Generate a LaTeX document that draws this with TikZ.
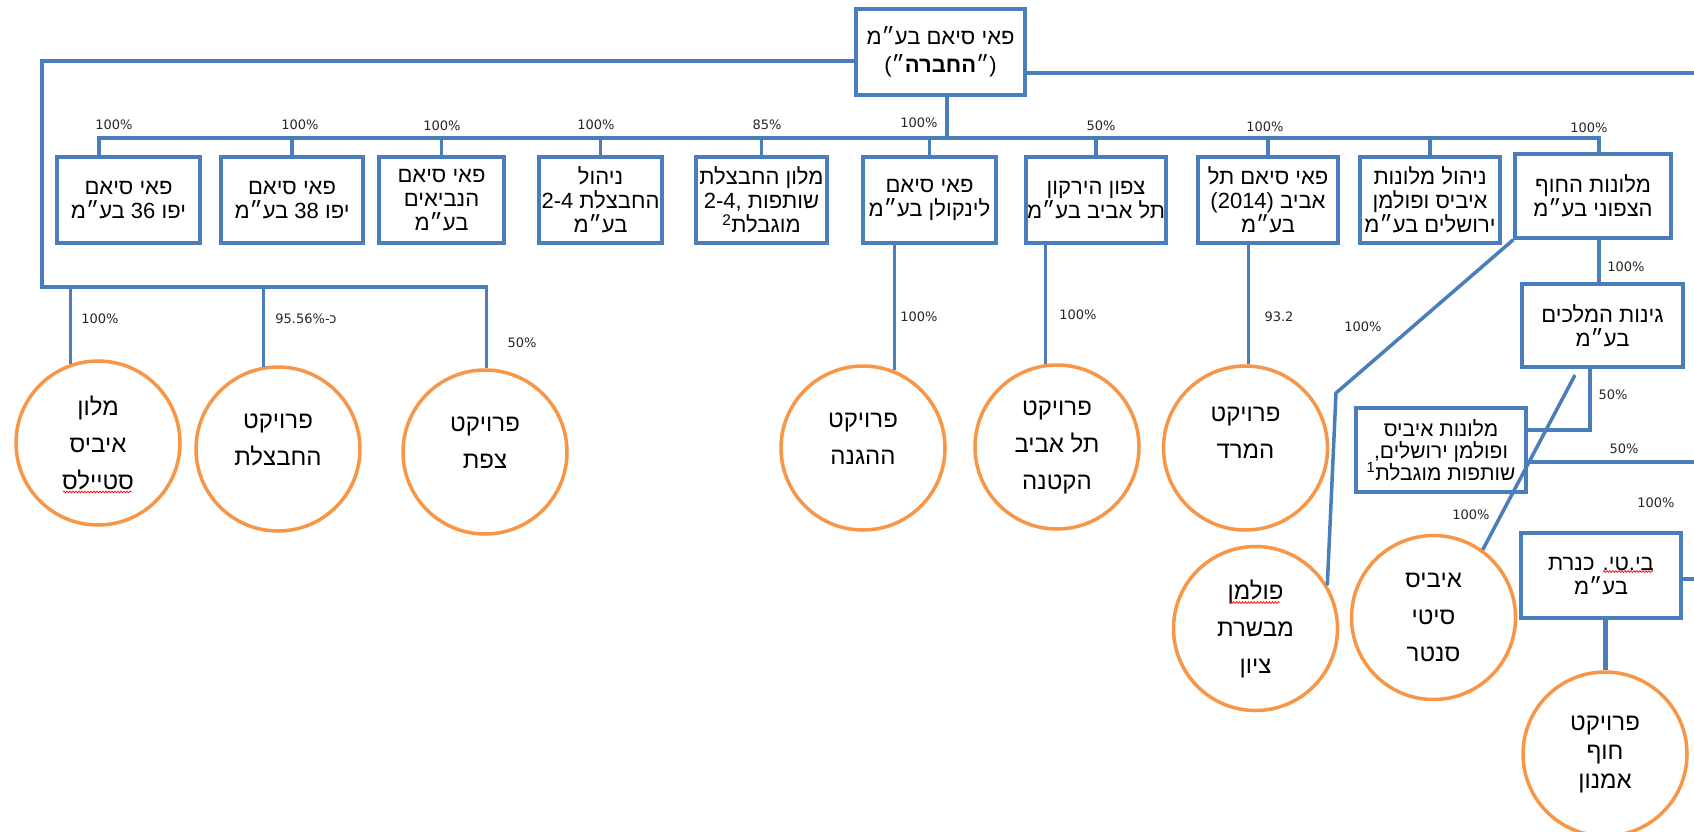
\documentclass[tikz,border=0pt]{standalone}
\usepackage{fontspec}
\setmainfont{Liberation Sans}
\newfontfamily\hebfont[Script=Hebrew]{Liberation Sans}
\newfontfamily\pctfont{DejaVu Sans}
\usetikzlibrary{positioning,decorations.pathmorphing}
\TeXXeTstate=1
\newcommand{\rtl}[1]{\beginR#1\endR}
\definecolor{orgblue}{RGB}{74,126,187}
\definecolor{orgorange}{RGB}{247,150,70}

\tikzset{%
          every company/.style={
            rectangle,
            draw=orgblue,
            line width=3.5pt,
            fill=white,
            align=center,
            inner sep=1pt,
            minimum height=86pt,
            font=\hebfont\fontsize{22}{24}\selectfont
          },
          every project/.style={
            circle,
            draw=orgorange,
            line width=3.5pt,
            fill=white,
            minimum size=164pt,
            inner sep=0pt,
            align=center,
            font=\hebfont\fontsize{24}{37}\selectfont
          },
          share/.style={
            font=\pctfont\fontsize{13}{14}\selectfont,
            text=black!85,
            inner sep=0pt
          },
          link/.style={
            draw=orgblue,
            line width=3.5pt
          },
          spellcheck/.style={
            draw=red,
            line width=0.7pt,
            decorate,
            decoration={snake, amplitude=0.9pt, segment length=3pt}
          },
        }

\begin{document}
\begin{tikzpicture}[x=1pt, y=-1pt]
        \fill [white] (0,0) rectangle (1694,831);
        \useasboundingbox (0,0) rectangle (1694,831);

        % companies
        \node [every company, minimum width=169pt, font=\hebfont\fontsize{22}{28}\selectfont] (root) at (940.5,52) {\rtl{פאי סיאם בע״מ}\\\rtl{(״\textbf{החברה}״)}};

        \node [every company, minimum width=143pt] (pai36) at (128.5,200) {\rtl{פאי סיאם}\\\rtl{יפו 36 בע״מ}};
        \node [every company, minimum width=142pt] (pai38) at (292,200) {\rtl{פאי סיאם}\\\rtl{יפו 38 בע״מ}};
        \node [every company, minimum width=125pt] (naviim) at (441.5,200) {\rtl{פאי סיאם}\\\rtl{הנביאים}\\\rtl{בע״מ}};
        \node [every company, minimum width=123pt] (nihul24) at (600.5,200) {\rtl{ניהול}\\\rtl{החבצלת \beginL2-4\endL}\\\rtl{בע״מ}};
        \node [every company, minimum width=131pt] (malon24) at (761.5,200) {\rtl{מלון החבצלת}\\\rtl{שותפות \beginL2-4\kern0pt,\endL}\\\rtl{מוגבלת\textsuperscript{2}}};
        \node [every company, minimum width=133pt] (lincoln) at (929.5,200) {\rtl{פאי סיאם}\\\rtl{לינקולן בע״מ}};
        \node [every company, minimum width=136pt] (yarkon) at (1096,200) {\rtl{צפון הירקון}\\\rtl{תל אביב בע״מ}};
        \node [every company, minimum width=140pt] (ta2014) at (1268,200) {\rtl{פאי סיאם תל}\\\rtl{אביב \beginL(2014)\endL}\\\rtl{בע״מ}};
        \node [every company, minimum width=140pt] (nihulibis) at (1430,200) {\rtl{ניהול מלונות}\\\rtl{איביס ופולמן}\\\rtl{ירושלים בע״מ}};
        \node [every company, minimum width=156pt, minimum height=84pt] (hof) at (1593,196) {\rtl{מלונות החוף}\\\rtl{הצפוני בע״מ}};

        \node [every company, minimum width=161pt, minimum height=83pt] (ginot) at (1602.5,325.5) {\rtl{גינות המלכים}\\\rtl{בע״מ}};
        \node [every company, minimum width=170pt, minimum height=84pt, font=\hebfont\fontsize{21}{22}\selectfont] (ibisjer) at (1441,450) {\rtl{מלונות איביס}\\\rtl{ופולמן ירושלים\kern0pt,}\\\rtl{שותפות מוגבלת\textsuperscript{1}}};
        \node [every company, minimum width=160pt, minimum height=85pt] (bt) at (1601,575.5) {\rtl{בי\kern0pt.\kern0pt טי\kern0pt.\kern0pt{} כנרת}\\\rtl{בע״מ}};

        % projects
        \node [every project] (c1) at (98,443) {\rtl{מלון}\\\rtl{איביס}\\\rtl{סטיילס}};
        \node [every project] (c2) at (278,449) {\rtl{פרויקט}\\\rtl{החבצלת}\\[-18pt]\mbox{}};
        \node [every project] (c3) at (485,452) {\rtl{פרויקט}\\\rtl{צפת}\\[-18pt]\mbox{}};
        \node [every project] (c4) at (863,448) {\rtl{פרויקט}\\\rtl{ההגנה}\\[-18pt]\mbox{}};
        \node [every project] (c5) at (1057,447) {\rtl{פרויקט}\\\rtl{תל אביב}\\\rtl{הקטנה}};
        \node [every project] (c6) at (1245.5,448) {\rtl{פרויקט}\\\rtl{המרד}\\[-6pt]\mbox{}};
        \node [every project] (c7) at (1255.5,628.5) {\rtl{פולמן}\\\rtl{מבשרת}\\\rtl{ציון}};
        \node [every project] (c8) at (1433.5,617.5) {\rtl{איביס}\\\rtl{סיטי}\\\rtl{סנטר}};
        \node [every project, font=\hebfont\fontsize{24}{29}\selectfont] (c9) at (1605,754) {\rtl{פרויקט}\\\rtl{חוף}\\\rtl{אמנון}};

        % junctions
        \coordinate (top-left) at (42,61);
        \coordinate (low-left) at (42,287);
        \coordinate (bus-w) at (99,138);
        \coordinate (bus-e) at (1599,138);
        \coordinate (root-drop) at (947,138);
        \coordinate (edge-top) at (1700,73);
        \coordinate (bend) at (1336,393);
        \coordinate (ginot-elbow) at (1590,430);
        \coordinate (ginot-tail) at (1575,375);
        \coordinate (edge-mid) at (1700,462);
        \coordinate (edge-low) at (1700,579);

        % holdings of the company
        \path [link] (root.south -| root-drop) -- (root-drop);
        \path [link] (pai36.north -| bus-w) -- (bus-w) -- (bus-e) -- (hof.north -| bus-e);
        \path [link] (pai38.north) -- (pai38.north |- bus-w);
        \path [link] (naviim.north) -- (naviim.north |- bus-w);
        \path [link] (nihul24.north) -- (nihul24.north |- bus-w);
        \path [link] (malon24.north) -- (malon24.north |- bus-w);
        \path [link] (lincoln.north) -- (lincoln.north |- bus-w);
        \path [link] (yarkon.north) -- (yarkon.north |- bus-w);
        \path [link] (ta2014.north) -- (ta2014.north |- bus-w);
        \path [link] (nihulibis.north) -- (nihulibis.north |- bus-w);

        \path [link] (root.west |- top-left) -- (top-left) -- (low-left) -- (low-left -| c3.89) -- (c3.89);
        \path [link] (low-left -| c1.109) -- (c1.109);
        \path [link] (low-left -| c2.100) -- (c2.100);
        \path [link] (root.east |- edge-top) -- (edge-top);

        \path [link] (lincoln.south -| c4.68) -- (c4.68);
        \path [link] (yarkon.south -| c5.98) -- (c5.98);
        \path [link] (ta2014.south -| c6.88) -- (c6.88);

        \path [link] (hof.south west) -- (bend) -- (c7.31);
        \path [link] (hof.south -| bus-e) -- (ginot.north -| bus-e);
        \path [link] (ginot.south -| ginot-elbow) -- (ginot-elbow) -- (ibisjer.east |- ginot-elbow);
        \path [link] (ibisjer.east |- edge-mid) -- (edge-mid);
        \path [link] (ginot-tail) -- (c8.54);
        \path [link] (bt.east |- edge-low) -- (edge-low);
        \path [link, line width=5pt] (bt.south -| c9.north) -- (c9.north);

        % shares
        \node [share] (pct-pai36) at (114,125) {100\%};
        \node [share] (pct-pai38) at (300,125) {100\%};
        \node [share] (pct-naviim) at (442,126) {100\%};
        \node [share] (pct-nihul24) at (596,125) {100\%};
        \node [share] (pct-malon24) at (767,125) {85\%};
        \node [share] (pct-lincoln) at (919,123) {100\%};
        \node [share] (pct-yarkon) at (1101,126) {50\%};
        \node [share] (pct-ta2014) at (1265,127) {100\%};
        \node [share] (pct-hof) at (1589,128) {100\%};

        \node [share] (pct-c1) at (100,319) {100\%};
        \node [share] (pct-c2) at (306,319) {95.56\%-{\hebfont כ}};
        \node [share] (pct-c3) at (522,343) {50\%};
        \node [share] (pct-c4) at (919,317) {100\%};
        \node [share] (pct-c5) at (1078,315) {100\%};
        \node [share] (pct-c6) at (1279,317) {93.2};
        \node [share] (pct-c7) at (1363,327) {100\%};
        \node [share] (pct-ginot) at (1626,267) {100\%};
        \node [share] (pct-ibisjer) at (1613,395) {50\%};
        \node [share] (pct-edge) at (1624,449) {50\%};
        \node [share] (pct-c8) at (1471,515) {100\%};
        \node [share] (pct-bt) at (1656,503) {100\%};

        \node [font=\fontsize{8}{8}\selectfont, text=black!60, inner sep=0pt] (stray) at (997,181) {:};

        % spelling marks
        \path [spellcheck] ([xshift=-35pt, yshift=-49pt]c1.center) -- ([xshift=34pt, yshift=-49pt]c1.center);
        \path [spellcheck] ([xshift=-26pt, yshift=26pt]c7.center) -- ([xshift=24pt, yshift=26pt]c7.center);
        \path [spellcheck] ([xshift=2pt, yshift=4pt]bt.center) -- ([xshift=52pt, yshift=4pt]bt.center);
\end{tikzpicture}
\end{document}
